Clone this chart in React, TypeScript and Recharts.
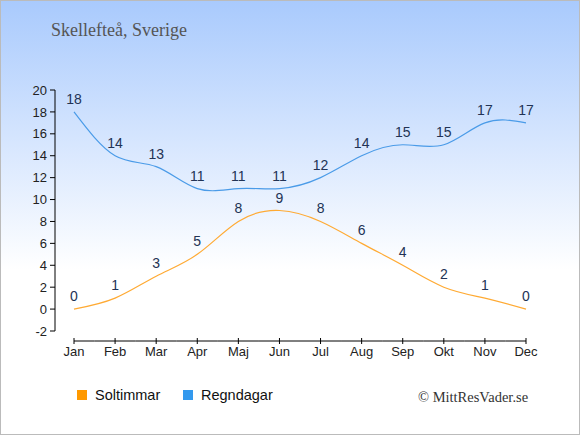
import { LineChart, Line, XAxis, YAxis, LabelList } from 'recharts'

const MONTHS = ['Jan', 'Feb', 'Mar', 'Apr', 'Maj', 'Jun', 'Jul', 'Aug', 'Sep', 'Okt', 'Nov', 'Dec']
const SOLTIMMAR = [0, 1, 3, 5, 8, 9, 8, 6, 4, 2, 1, 0]
const REGNDAGAR = [18, 14, 13, 11, 11, 11, 12, 14, 15, 15, 17, 17]
const Y_TICKS = [-2, 0, 2, 4, 6, 8, 10, 12, 14, 16, 18, 20]

const SERIES = [
  { key: 'sol', name: 'Soltimmar', stroke: '#ffaa33', swatch: '#ff9900' },
  { key: 'regn', name: 'Regndagar', stroke: '#4a9be8', swatch: '#3399ee' }
]

const data = MONTHS.map((month, i) => ({ month, sol: SOLTIMMAR[i], regn: REGNDAGAR[i] }))

const STEP = 41.1

// x axis sits 10px below the plot, so it is drawn from the ticks
function MonthTick(props: any) {
  const { x, y, payload, index, visibleTicksCount } = props
  const axisY = y + 10
  const x1 = index === 0 ? x : x - STEP / 2
  const x2 = index === visibleTicksCount - 1 ? x : x + STEP / 2
  return (
    <g>
      <line x1={x1} x2={x2} y1={axisY} y2={axisY} stroke="#000" />
      <line x1={x} x2={x} y1={axisY - 3} y2={axisY + 3} stroke="#000" />
      <text x={x} y={axisY + 15} textAnchor="middle" fontSize={13} fill="#222">
        {payload.value}
      </text>
    </g>
  )
}

export default function App() {
  return (
    <div
      style={{
        position: 'absolute',
        left: 0,
        top: 0,
        width: 580,
        height: 435,
        boxSizing: 'border-box',
        border: '1px solid #bbb',
        background: 'linear-gradient(to bottom, #a9cafd 0%, #ffffff 62%)',
        fontFamily: '"Liberation Sans", Arial, sans-serif'
      }}
    >
      <div
        style={{
          position: 'absolute',
          left: 50,
          top: 19,
          fontFamily: '"Liberation Serif", serif',
          fontSize: 18,
          color: '#555'
        }}
      >
        Skellefteå, Sverige
      </div>

      <div style={{ position: 'absolute', left: -1, top: -1 }}>
        <LineChart width={580} height={435} data={data} margin={{ top: 90, right: 54, bottom: 74, left: 0 }}>
          <XAxis
            dataKey="month"
            padding={{ left: 19, right: 0 }}
            axisLine={false}
            tickLine={false}
            tickSize={0}
            tickMargin={0}
            height={30}
            interval={0}
            tick={<MonthTick />}
          />
          <YAxis
            width={55}
            domain={[-2, 20]}
            ticks={Y_TICKS}
            interval={0}
            tickSize={5}
            tickMargin={3}
            stroke="#000"
            tick={{ fontSize: 13, fill: '#222' }}
          />
          {SERIES.map((s) => (
            <Line
              key={s.key}
              type="natural"
              dataKey={s.key}
              name={s.name}
              stroke={s.stroke}
              strokeWidth={1.2}
              dot={false}
              isAnimationActive={false}
            >
              <LabelList dataKey={s.key} position="top" offset={8} fontSize={14} fill="#223355" />
            </Line>
          ))}
        </LineChart>
      </div>

      {SERIES.map((s, i) => (
        <div
          key={s.key}
          style={{ position: 'absolute', left: 76 + i * 106, top: 386, display: 'flex', alignItems: 'center' }}
        >
          <span style={{ width: 10, height: 10, background: s.swatch, display: 'inline-block', marginRight: 8 }} />
          <span style={{ fontSize: 14.5, color: '#111' }}>{s.name}</span>
        </div>
      ))}

      <div
        style={{
          position: 'absolute',
          left: 417,
          top: 388,
          fontFamily: '"Liberation Serif", serif',
          fontSize: 14.5,
          color: '#333'
        }}
      >
        © MittResVader.se
      </div>
    </div>
  )
}
